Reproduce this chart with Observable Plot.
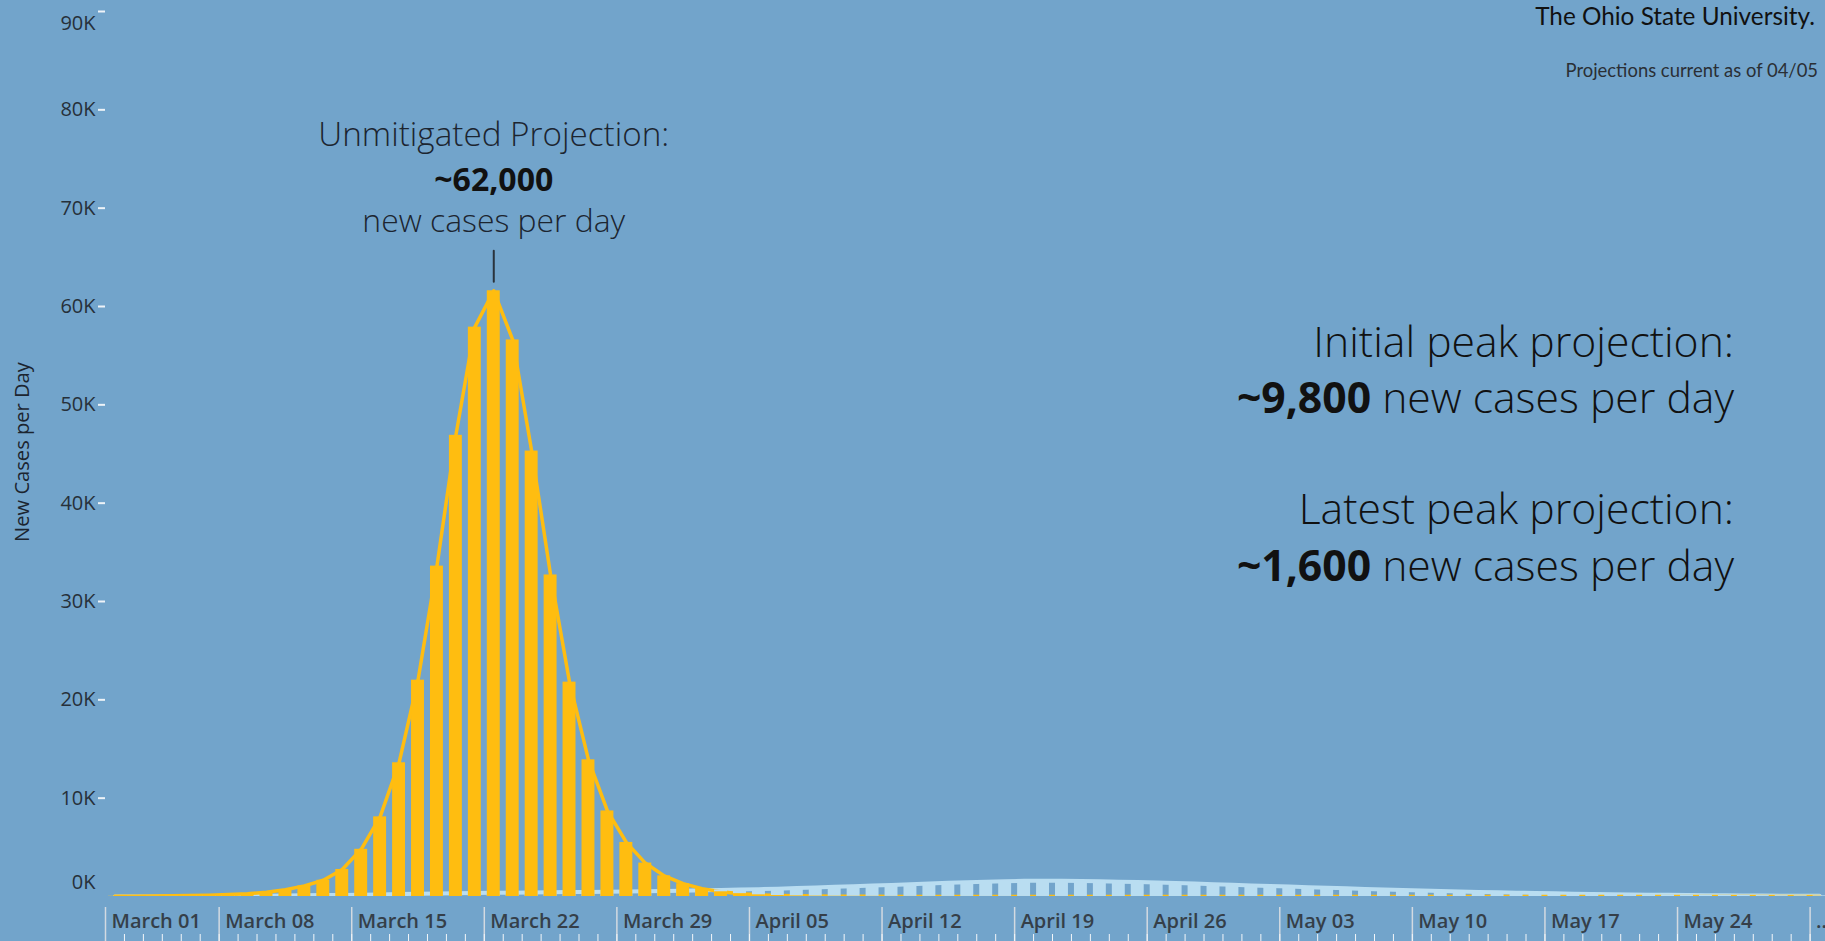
<!DOCTYPE html>
<html><head><meta charset="utf-8">
<script src="https://cdn.jsdelivr.net/npm/d3@7"></script>
<script src="https://cdn.jsdelivr.net/npm/@observablehq/plot@0.6"></script>
<style>
html,body{margin:0;padding:0;background:#72a4cb;}
#wrap{position:relative;width:1825px;height:941px;overflow:hidden;}
#wrap svg{display:block;}
.ann{position:absolute;white-space:nowrap;}
</style></head><body><div id="wrap"></div>
<script>
// ---------------- data ----------------
const startDate = "2020-03-02"; // first day shown (week of March 01)
// Unmitigated projection: new cases per day, Mar 02 .. May 31
const unmitigated = [
  20, 30, 45, 65, 95, 135, 195,                    // Mar 02-08
  290, 440, 680, 1080, 1650, 2750, 4800,           // Mar 09-15
  8100, 13600, 22000, 33600, 46900, 57900, 61600,  // Mar 16-22
  56600, 45300, 32700, 21800, 13900, 8700, 5500,   // Mar 23-29
  3400, 2100, 1300, 800, 480, 290, 170,            // Mar 30-Apr 05
  100, 65, 42, 30, 22, 16, 12,                     // Apr 06-12
  9, 7, 5, 4, 3, 3, 2,                             // Apr 13-19
  2, 2, 1, 1, 1, 1, 1,                             // Apr 20-26
  1, 1, 1, 0, 0, 0, 0,                             // Apr 27-May 03
  0, 0, 0, 0, 0, 0, 0,                             // May 04-10
  0, 0, 0, 0, 0, 0, 0,                             // May 11-17
  0, 0, 0, 0, 0, 0, 0,                             // May 18-24
  0, 0, 0, 0, 0, 0, 0                              // May 25-31
];
// Latest projection: new cases per day, Mar 02 .. May 31
const latest = [
  5, 8, 12, 18, 25, 35, 45,
  60, 75, 95, 115, 140, 165, 190,
  215, 245, 270, 300, 325, 350, 370,
  390, 410, 430, 450, 465, 480, 500,
  530, 560, 590, 630, 670, 710, 750,
  800, 860, 920, 980, 1040, 1110, 1180,
  1250, 1320, 1390, 1450, 1510, 1560, 1600,
  1610, 1600, 1580, 1550, 1510, 1470, 1420,
  1370, 1310, 1250, 1190, 1130, 1070, 1010,
  950, 890, 830, 770, 710, 660, 610,
  560, 510, 470, 430, 390, 350, 320,
  290, 260, 235, 210, 190, 170, 150,
  135, 120, 105, 95, 85, 75, 65
];
const weekTickDates = ["2020-03-02","2020-03-08","2020-03-15","2020-03-22","2020-03-29","2020-04-05","2020-04-12",
  "2020-04-19","2020-04-26","2020-05-03","2020-05-10","2020-05-17","2020-05-24","2020-05-31"];
const weekTickLabels = ["March 01","March 08","March 15","March 22","March 29","April 05","April 12",
  "April 19","April 26","May 03","May 10","May 17","May 24","\u2026"];
const yTickValues = [0,10000,20000,30000,40000,50000,60000,70000,80000,90000];
const yTickLabels = ["0K","10K","20K","30K","40K","50K","60K","70K","80K","90K"];
const yTitle = "New Cases per Day";
const annUnmitigated = ["Unmitigated Projection:", "~62,000", "new cases per day"];
const brandText = "The Ohio State University.";
const asOfText = "Projections current as of 04/05";
const initialPeak = {head: "Initial peak projection:", value: "~9,800", tail: " new cases per day"};
const latestPeak = {head: "Latest peak projection:", value: "~1,600", tail: " new cases per day"};

// ---------------- helpers ----------------
const BG = "#72a4cb", GOLD = "#ffbd10", LIGHT = "#b9ddf1", INK = "#1c2530";
const ANN = "'Open Sans', Lato, sans-serif";
const cv = document.createElement("canvas").getContext("2d");
function textW(str, family, weight) { cv.font = `${weight} 100px ${family}`; return cv.measureText(str).width / 100; }
function fit(parts, target) { // parts: [[text, family, weight], ...]
  return target / d3.sum(parts, p => textW(p[0], p[1], p[2]));
}

// ---------------- build ----------------
const t0 = new Date(startDate + "T00:00:00Z");
const rows = unmitigated.map((v, i) => {
  const date = d3.utcDay.offset(t0, i);
  return {date, mid: d3.utcHour.offset(date, 12), unmitigated: v, latest: latest[i]};
});
const weekTicks = weekTickDates.map(s => new Date(s + "T00:00:00Z"));
const weekLabelOf = new Map(weekTicks.map((d, i) => [+d, weekTickLabels[i]]));
const dayTicks = d3.utcDay.range(d3.utcDay.offset(t0, 1), d3.utcDay.offset(t0, rows.length));
const yLabelOf = new Map(yTickValues.map((v, i) => [v, yTickLabels[i]]));
const yTop = d3.max(yTickValues), yMid = yTickValues.filter(v => v > 0 && v < yTop);
const peak = rows[d3.maxIndex(rows, r => r.unmitigated)];
const spike = {draw(ctx, l) { ctx.moveTo(0, 0); ctx.lineTo(0, -l); }};

const sHead = fit([[annUnmitigated[0], ANN, 300]], 351);
const sVal = fit([[annUnmitigated[1], ANN, 700]], 119);
const sTail = fit([[annUnmitigated[2], ANN, 300]], 263);
const sTitle = fit([[yTitle, "'Open Sans'", 400]], 180);

const axisFont = {fill: "#26303a", fontSize: 20, label: null};
const chart = Plot.plot({
  width: 1825, height: 941,
  marginLeft: 105, marginRight: 0, marginTop: 11, marginBottom: 45,
  style: {background: BG, fontFamily: "'Open Sans', sans-serif", overflow: "visible"},
  x: {type: "utc", domain: [t0, new Date("2020-05-31T19:30:00Z")]},
  y: {domain: [0, yTop]},
  marks: [
    Plot.lineY(rows, {x: "mid", y: "latest", stroke: LIGHT, strokeWidth: 4, clip: true}),
    Plot.lineY(rows, {x: "mid", y: "unmitigated", stroke: GOLD, strokeWidth: 3.5, clip: true}),
    Plot.rectY(rows, {x: "date", y: "latest", interval: "day", fill: LIGHT, insetLeft: 3, insetRight: 3}),
    Plot.rectY(rows, {x: "date", y: "unmitigated", interval: "day", fill: GOLD, insetLeft: 3, insetRight: 3}),
    // y axis (top and bottom labels are pushed inside the pane, as in the original)
    Plot.axisY(yMid, {anchor: "left", tickSize: 7, tickPadding: 3, stroke: "#eef3f8", strokeWidth: 2,
      tickFormat: d => yLabelOf.get(d), ...axisFont}),
    Plot.axisY([yTop], {anchor: "left", tickSize: 7, stroke: "#eef3f8", strokeWidth: 2, fill: "none", label: null}),
    Plot.axisY([yTop], {anchor: "left", tickSize: 0, tickPadding: 10, dy: 12, tickFormat: d => yLabelOf.get(d), ...axisFont}),
    Plot.axisY([0], {anchor: "left", tickSize: 0, tickPadding: 10, dy: -14, tickFormat: d => yLabelOf.get(d), ...axisFont}),
    Plot.text([yTitle], {frameAnchor: "left", textAnchor: "middle", dx: -83, dy: -2, rotate: -90, fontSize: sTitle, fill: INK}),
    // x axis: week separators, day ticks, week labels
    Plot.axisX(weekTicks, {anchor: "bottom", tickSize: 34, dy: 11, fill: "none", stroke: "#d3dae1", strokeWidth: 1.5, label: null}),
    Plot.axisX(dayTicks, {anchor: "bottom", tickSize: 7, dy: 38, fill: "none", stroke: "#f3f6f9", strokeWidth: 1, label: null}),
    Plot.axisX(weekTicks, {anchor: "bottom", tickSize: 0, tickPadding: 0, dy: 17, dx: 6, textAnchor: "start",
      tickFormat: d => weekLabelOf.get(+d), fill: "#353f49", fontSize: 20, fontWeight: 600, label: null}),
    // peak annotation
    Plot.vector([peak], {x: "mid", y: "unmitigated", length: 31, anchor: "start", dy: -9, shape: spike, stroke: "#2a333d", strokeWidth: 2}),
    Plot.text([peak], {x: "mid", y: "unmitigated", text: () => annUnmitigated[0], dy: -155, fontSize: sHead, fontWeight: 300, fontFamily: ANN, fill: INK}),
    Plot.text([peak], {x: "mid", y: "unmitigated", text: () => annUnmitigated[1], dy: -110, fontSize: sVal, fontWeight: 700, fontFamily: ANN, fill: "#111"}),
    Plot.text([peak], {x: "mid", y: "unmitigated", text: () => annUnmitigated[2], dy: -69, fontSize: sTail, fontWeight: 300, fontFamily: ANN, fill: INK})
  ]
});
const wrap = document.getElementById("wrap");
wrap.appendChild(chart);

function addAnn(html, {right, centerY, size, weight = 400, color = INK, family = ANN}) {
  const div = document.createElement("div");
  div.className = "ann";
  div.innerHTML = html;
  const L = Math.round(size * 1.3);
  Object.assign(div.style, {right: (1825 - right) + "px", top: (centerY - L / 2) + "px", lineHeight: L + "px",
    fontSize: size + "px", fontWeight: weight, color, fontFamily: family, textAlign: "right"});
  wrap.appendChild(div);
}
const BRAND = "Lato, 'Open Sans', sans-serif";
addAnn(brandText, {right: 1815, centerY: 16, size: fit([[brandText, BRAND, 400]], 280), color: "#111", family: BRAND});
addAnn(asOfText, {right: 1818, centerY: 70, size: fit([[asOfText, BRAND, 400]], 253), color: "#2a2f35", family: BRAND});
const sRight = d3.mean([
  fit([[initialPeak.head, ANN, 300]], 428),
  fit([[latestPeak.head, ANN, 300]], 436),
  fit([[initialPeak.value, ANN, 700], [initialPeak.tail, ANN, 300]], 488)
]);
const bold = s => `<b style="font-weight:700">${s}</b>`;
addAnn(initialPeak.head, {right: 1734, centerY: 340, size: sRight, weight: 300, color: "#111"});
addAnn(bold(initialPeak.value) + initialPeak.tail, {right: 1734, centerY: 396, size: sRight, weight: 300, color: "#111"});
addAnn(latestPeak.head, {right: 1734, centerY: 507, size: sRight, weight: 300, color: "#111"});
addAnn(bold(latestPeak.value) + latestPeak.tail, {right: 1734, centerY: 564, size: sRight, weight: 300, color: "#111"});
</script></body></html>
